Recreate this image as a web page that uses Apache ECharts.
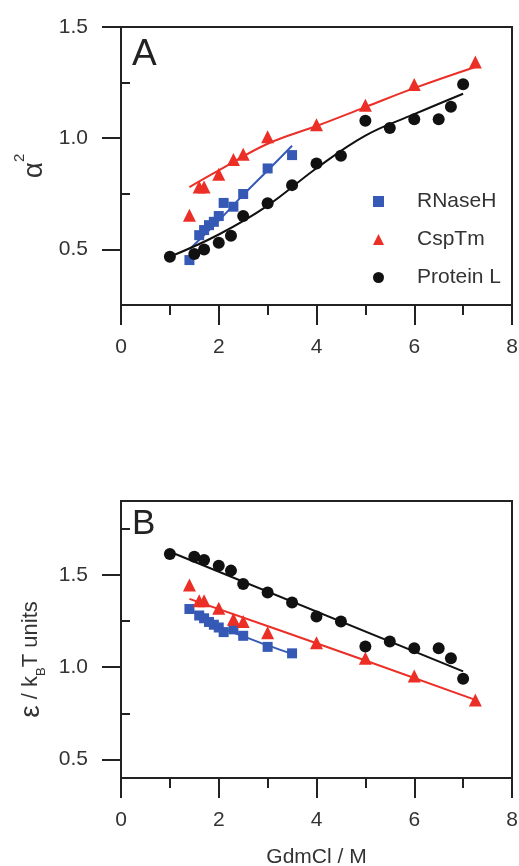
<!doctype html>
<html>
<head>
<meta charset="utf-8">
<title>alpha2 and epsilon vs GdmCl</title>
<script src="https://cdn.jsdelivr.net/npm/echarts@6/dist/echarts.min.js"></script>
<style>
  html, body { margin: 0; padding: 0; background: #fff; }
  #chart { width: 519px; height: 866px; }
</style>
</head>
<body>
<div id="chart"></div>
<script>
// ---- data ----
var rnaseX = [1.4, 1.6, 1.7, 1.8, 1.9, 2.0, 2.1, 2.3, 2.5, 3.0, 3.5];
var rnaseA = [0.452, 0.564, 0.587, 0.609, 0.624, 0.650, 0.709, 0.692, 0.749, 0.864, 0.924];
var rnaseB = [1.315, 1.28, 1.265, 1.245, 1.23, 1.215, 1.19, 1.205, 1.17, 1.11, 1.075];

var cspX = [1.4, 1.6, 1.7, 2.0, 2.3, 2.5, 3.0, 4.0, 5.0, 6.0, 7.25];
var cspA = [0.654, 0.781, 0.781, 0.838, 0.904, 0.928, 1.006, 1.061, 1.148, 1.241, 1.343];
var cspB = [1.445, 1.36, 1.36, 1.319, 1.26, 1.247, 1.187, 1.133, 1.049, 0.953, 0.823];

var protX = [1.0, 1.5, 1.7, 2.0, 2.25, 2.5, 3.0, 3.5, 4.0, 4.5, 5.0, 5.5, 6.0, 6.5, 6.75, 7.0];
var protA = [0.467, 0.479, 0.500, 0.530, 0.561, 0.650, 0.707, 0.789, 0.886, 0.921, 1.078, 1.046, 1.085, 1.085, 1.141, 1.243];
var protB = [1.613, 1.598, 1.580, 1.550, 1.523, 1.450, 1.405, 1.350, 1.274, 1.247, 1.112, 1.139, 1.103, 1.103, 1.049, 0.937];

// fitted curves (read as points along the drawn lines)
var rnaseFitX = [1.4, 2.0, 2.5, 3.0, 3.5];
var rnaseFitA = [0.50, 0.63, 0.745, 0.855, 0.966];
var rnaseFitB = [1.315, 1.22, 1.168, 1.118, 1.072];
var cspFitX = [1.4, 2.0, 3.0, 4.0, 5.0, 6.0, 7.25];
var cspFitA = [0.78, 0.855, 0.975, 1.055, 1.14, 1.225, 1.32];
var cspFitBX = [1.4, 4.0, 7.25];
var cspFitB = [1.37, 1.13, 0.823];
var protFitX = [1.0, 2.0, 3.0, 4.0, 5.0, 6.0, 7.0];
var protFitA = [0.467, 0.567, 0.697, 0.865, 1.012, 1.108, 1.20];
var protFitBX = [1.0, 7.0];
var protFitB = [1.625, 0.977];

var yMajor = [0.5, 1.0, 1.5];
var yMinorA = [0.25, 0.75, 1.25];
var yMinorB = [0.4, 0.75, 1.25, 1.75];
var names = ['RNaseH', 'CspTm', 'Protein L'];

// ---- style ----
var FONT = 'Liberation Sans';
var AX = '#222';
var BLUE = '#3559b5', RED = '#ec2f26', BLACK = '#111';

function pairs(xs, ys) {
    return xs.map(function (x, i) { return [x, ys[i]]; });
}

function xAxisFor(gi, withName) {
    return {
        type: 'value', gridIndex: gi, min: 0, max: 8, interval: 2,
        axisLine: { show: true, onZero: false, lineStyle: { color: AX, width: 2 } },
        axisTick: { show: true, length: 20, lineStyle: { color: AX, width: 2 } },
        minorTick: { show: true, splitNumber: 2, length: 10, lineStyle: { color: AX, width: 2 } },
        splitLine: { show: false },
        axisLabel: { margin: 32, fontFamily: FONT, fontSize: 21, color: '#333' },
        name: withName ? 'GdmCl / M' : '',
        nameLocation: 'middle', nameGap: 69,
        nameTextStyle: { fontFamily: FONT, fontSize: 21, color: '#333' }
    };
}

function yAxisMajor(gi, min, max, name, nameGap, pad) {
    return {
        type: 'value', gridIndex: gi, min: min, max: max,
        axisLine: { show: true, onZero: false, lineStyle: { color: AX, width: 2 } },
        axisTick: { show: true, customValues: yMajor, length: 19, lineStyle: { color: AX, width: 2 } },
        splitLine: { show: false },
        axisLabel: {
            customValues: yMajor, margin: 33, fontFamily: FONT, fontSize: 21, color: '#333',
            formatter: function (v) { return v.toFixed(1); }
        },
        name: name, nameLocation: 'middle', nameGap: nameGap, nameRotate: 90,
        nameTextStyle: {
            fontFamily: FONT, color: '#333', padding: pad,
            rich: {
                a: { fontFamily: FONT, fontSize: 28, color: '#333' },
                s: { fontFamily: FONT, fontSize: 15, color: '#333', padding: [0, 0, 28, 0] },
                e: { fontFamily: FONT, fontSize: 28, color: '#333' },
                t: { fontFamily: FONT, fontSize: 22, color: '#333' },
                b: { fontFamily: FONT, fontSize: 13, color: '#333', padding: [20, 0, 0, 0] }
            }
        }
    };
}

function yAxisMinor(gi, min, max, vals) {
    return {
        type: 'value', gridIndex: gi, min: min, max: max,
        axisLine: { show: false },
        axisTick: { show: true, customValues: vals, length: 9, lineStyle: { color: AX, width: 2 } },
        axisLabel: { show: false },
        splitLine: { show: false }
    };
}

function scatter(name, xi, yi, xs, ys, symbol, size, color) {
    return {
        name: name, type: 'scatter', xAxisIndex: xi, yAxisIndex: yi,
        symbol: symbol, symbolSize: size, itemStyle: { color: color, opacity: 1 },
        data: pairs(xs, ys), z: 3
    };
}

function fit(xi, yi, xs, ys, color) {
    return {
        name: 'fit', type: 'line', xAxisIndex: xi, yAxisIndex: yi,
        smooth: 0.4, showSymbol: false, symbol: 'none',
        lineStyle: { color: color, width: 2 },
        data: pairs(xs, ys), z: 4, silent: true
    };
}

var chart = echarts.init(document.getElementById('chart'), null, { renderer: 'canvas' });

var option = {
    animation: false,
    backgroundColor: '#fff',
    grid: [
        { left: 121, top: 27, width: 391, height: 278, outerBoundsMode: 'none', containLabel: false,
          show: true, borderColor: AX, borderWidth: 2, backgroundColor: 'transparent' },
        { left: 121, top: 501, width: 391, height: 277, outerBoundsMode: 'none', containLabel: false,
          show: true, borderColor: AX, borderWidth: 2, backgroundColor: 'transparent' }
    ],
    title: [
        { text: 'A', left: 127, top: 31, textStyle: { fontFamily: FONT, fontSize: 37, fontWeight: 'normal', color: '#222' } },
        { text: 'B', left: 127, top: 502, textStyle: { fontFamily: FONT, fontSize: 35, fontWeight: 'normal', color: '#222' } }
    ],
    legend: {
        data: names, orient: 'vertical', left: 368, top: 186, itemGap: 17,
        itemWidth: 11, itemHeight: 11,
        textStyle: { fontFamily: FONT, fontSize: 21, color: '#333', padding: [0, 0, 0, 28] }
    },
    xAxis: [xAxisFor(0, false), xAxisFor(1, true)],
    yAxis: [
        yAxisMajor(0, 0.25, 1.5, '{a|α}{s|2}', 58, [0, 0, 0, 0]),
        yAxisMinor(0, 0.25, 1.5, yMinorA),
        yAxisMajor(1, 0.4, 1.9, '{e|ε}{t| / k}{b|B}{t|T units}', 60, [0, 40, 0, 0]),
        yAxisMinor(1, 0.4, 1.9, yMinorB)
    ],
    series: [
        scatter('RNaseH', 0, 0, rnaseX, rnaseA, 'rect', 10, BLUE),
        scatter('CspTm', 0, 0, cspX, cspA, 'triangle', 13, RED),
        scatter('Protein L', 0, 0, protX, protA, 'circle', 12, BLACK),
        fit(0, 0, rnaseFitX, rnaseFitA, BLUE),
        fit(0, 0, cspFitX, cspFitA, RED),
        fit(0, 0, protFitX, protFitA, BLACK),
        scatter('RNaseH', 1, 2, rnaseX, rnaseB, 'rect', 10, BLUE),
        scatter('CspTm', 1, 2, cspX, cspB, 'triangle', 13, RED),
        scatter('Protein L', 1, 2, protX, protB, 'circle', 12, BLACK),
        fit(1, 2, rnaseFitX, rnaseFitB, BLUE),
        fit(1, 2, cspFitBX, cspFitB, RED),
        fit(1, 2, protFitBX, protFitB, BLACK)
    ]
};
chart.setOption(option);
</script>
</body>
</html>
